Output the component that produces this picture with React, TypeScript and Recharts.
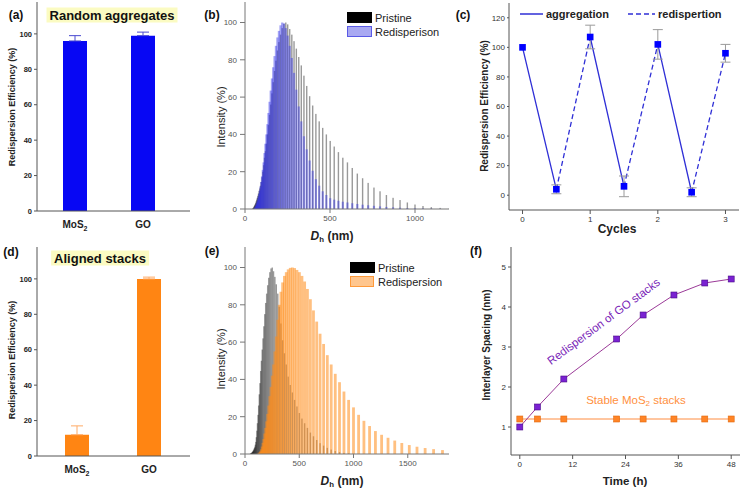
import React from 'react';
import { BarChart, Bar, ComposedChart, Line, Scatter, XAxis, YAxis, ZAxis, ErrorBar } from 'recharts';

const FONT = "'Liberation Sans', Arial, Helvetica, sans-serif";

// ---------- (a) & (d) ----------
const materials = ['MoS2', 'GO'];
const randomAggEff = [96, 99];
const randomAggErr = [3, 2];
const alignedEff = [12, 100];
const alignedErr = [5, 1];

// ---------- (b) & (e) DLS size bins (nm) ----------
const dlsBins = [
  39.8, 41.7, 43.7, 45.7, 47.9, 50.1, 52.5, 55.0, 57.5, 60.3,
  63.1, 66.1, 69.2, 72.4, 75.9, 79.4, 83.2, 87.1, 91.2, 95.5,
  100, 104.7, 109.6, 114.8, 120.2, 125.9, 131.8, 138.0, 144.5, 151.4,
  158.5, 166.0, 173.8, 182.0, 190.5, 199.5, 208.9, 218.8, 229.1, 239.9,
  251.2, 263.0, 275.4, 288.4, 302.0, 316.2, 331.1, 346.7, 363.1, 380.2,
  398.1, 416.9, 436.5, 457.1, 478.6, 501.2, 524.8, 549.5, 575.4, 602.6,
  631.0, 660.7, 691.8, 724.4, 758.6, 794.3, 831.8, 871.0, 912.0, 955.0,
  1000, 1047, 1096, 1148, 1202, 1259, 1318, 1380, 1445, 1514,
  1585, 1660, 1738, 1820,
];
const pristineB = [
  0, 0, 0, 0.2, 0.4, 0.7, 1.1, 1.6, 2.1, 2.6,
  3.3, 4.1, 5.0, 6.0, 7.1, 8.3, 9.6, 11, 12.5, 14.5,
  17, 20, 23.5, 27.5, 31, 35, 40, 45, 50.5, 56,
  62, 68, 74, 79.5, 85, 89.5, 93.5, 97, 99.3, 100,
  99, 96.5, 93.5, 90, 86, 81.5, 77, 71.5, 66, 60.5,
  55.5, 51, 47, 43.5, 40, 36.5, 33.5, 30.5, 27.5, 25,
  22, 19, 16.5, 14, 11.5, 9.5, 7.5, 6, 4.8, 3.5,
  2.4, 1.6, 1.0, 0.6, 0.3, 0.1, 0, 0, 0, 0,
  0, 0, 0, 0,
];
const redispB = [
  0, 0, 0, 0, 0, 0, 0, 0.3, 0.6, 1.0,
  1.5, 2.2, 3.0, 4.0, 5.2, 6.6, 8.2, 10, 12, 14.5,
  17.5, 21, 25, 30, 35, 40, 45.5, 51.5, 57.5, 63.5,
  70, 76, 82, 87.5, 92, 95.5, 98.5, 100, 99.5, 97,
  93, 87.5, 81, 73, 64, 55, 47, 39, 32, 26,
  20.5, 16, 12.5, 9.5, 7.5, 5.8, 5.0, 4.4, 3.9, 3.5,
  3.1, 2.7, 2.3, 2.0, 1.7, 1.4, 1.1, 0.9, 0.7, 0.5,
  0.4, 0.3, 0.2, 0.1, 0, 0, 0, 0, 0, 0,
  0, 0, 0, 0,
];
const pristineE = [
  0, 0, 0, 0, 0, 0.1, 0.2, 0.3, 0.4, 0.5,
  0.7, 0.9, 1.1, 1.4, 1.7, 2.1, 2.6, 3.2, 3.9, 5.0,
  6.5, 9, 12.5, 16.5, 21, 26, 32, 38, 44.5, 50,
  56, 62, 68.5, 75, 81, 86, 90.5, 94.5, 97.5, 99.5,
  100, 98, 95, 91, 86, 79, 70, 61, 54, 48,
  41.5, 37, 33, 29, 25.5, 22, 19, 16.5, 14, 11.5,
  9.5, 7.5, 5.8, 4.5, 3.3, 2.4, 1.6, 1.0, 0.6, 0.3,
  0.1, 0, 0, 0, 0, 0, 0, 0, 0, 0,
  0, 0, 0, 0,
];
const redispE = [
  0, 0, 0, 0, 0, 0, 0, 0, 0, 0,
  0, 0, 0, 0, 0, 0, 0, 0, 0, 0,
  0, 0, 0, 0, 0, 0.3, 0.6, 1.0, 1.5, 2.5,
  4, 6, 8, 11, 14, 17.5, 21.5, 26, 31, 36,
  42, 48, 55, 63, 72, 80, 87, 92, 95.5, 97.5,
  99, 99.8, 100, 99.7, 98.7, 97.5, 95.5, 92.5, 88.5, 83,
  77, 71, 64.5, 59, 53, 48, 43, 38.5, 33.5, 29,
  25, 21, 17.8, 15, 12.3, 10.3, 8.7, 7.2, 5.9, 4.8,
  3.9, 3.2, 2.6, 2.1,
];

// ---------- (c) ----------
const cycles = [0, 0.5, 1, 1.5, 2, 2.5, 3];
const cycleEff = [100, 4, 107, 6, 102, 2, 96];
const cycleErr = [0, 3, 8, 7, 10, 3, 6];
const aggregationSegments = [[0, 1], [2, 3], [4, 5]];
const redispersionSegments = [[1, 2], [3, 4], [5, 6]];

// ---------- (f) ----------
const timeH = [0, 4, 10, 22, 28, 35, 42, 48];
const goSpacing = [1.0, 1.5, 2.2, 3.2, 3.8, 4.3, 4.6, 4.7];
const mos2Spacing = [1.2, 1.2, 1.2, 1.2, 1.2, 1.2, 1.2, 1.2];

// ---------- helpers ----------
const frame = (color: string) => [
  <XAxis key="ft" xAxisId="frameTop" orientation="top" type="number" domain={[0, 1]} height={0} tick={false} tickLine={false} stroke={color} />,
  <YAxis key="fr" yAxisId="frameRight" orientation="right" type="number" domain={[0, 1]} width={0} tick={false} tickLine={false} stroke={color} />,
];

const thinBar = (w: number, fill: string, opacity: number) => (props: any) => {
  const { x, y, width, height } = props;
  if (!(height > 0)) return <g />;
  return <rect x={x + width / 2 - w / 2} y={y} width={w} height={height} fill={fill} fillOpacity={opacity} />;
};

const squareDot = (size: number, fill: string, stroke: string) => (props: any) => {
  const { cx, cy, index } = props;
  if (cx == null || cy == null) return <g key={`d${index}`} />;
  return <rect key={`d${index}`} x={cx - size / 2} y={cy - size / 2} width={size} height={size} fill={fill} stroke={stroke} strokeWidth={0.6} />;
};

const MaterialTick = (props: any) => {
  const { x, y, payload } = props;
  const v = String(payload.value);
  return (
    <text x={x} y={y + 9} textAnchor="middle" fontFamily={FONT} fontWeight="bold" fontSize={10} fill="#222">
      {v === 'MoS2' ? (<>MoS<tspan fontSize={7} dy={3}>2</tspan></>) : v}
    </text>
  );
};

const Txt = ({ x, y, rot = 0, size = 11, weight = 'normal', color = '#222', children, style = {} }: any) => (
  <div style={{
    position: 'absolute', left: x, top: y,
    transform: `translate(-50%,-50%) rotate(${rot}deg)`,
    fontFamily: FONT, fontSize: size, fontWeight: weight, color,
    whiteSpace: 'nowrap', lineHeight: 1, ...style,
  }}>{children}</div>
);

const Box = ({ x, y, w, h, children }: any) => (
  <div style={{ position: 'absolute', left: x, top: y, width: w, height: h }}>{children}</div>
);

const Dh = () => (<span><i>D</i><sub style={{ fontSize: '0.65em', verticalAlign: '-0.25em' }}>h</sub> (nm)</span>);

// ---------- panels ----------
function EfficiencyBars({ eff, err, color, errColor, padding }: any) {
  const data = materials.map((m, i) => ({ name: m, v: eff[i], e: [0, err[i]] }));
  return (
    <BarChart width={200} height={245} data={data} margin={{ top: 2, right: 10, left: 10, bottom: 10 }}>
      <XAxis dataKey="name" tick={<MaterialTick />} tickLine={false} height={24} padding={padding} stroke="#555" interval={0} />
      <YAxis domain={[0, 118]} ticks={[0, 20, 40, 60, 80, 100]} width={27} tickSize={3} tickMargin={2}
        tick={{ fontSize: 7.5, fill: '#222', fontWeight: 'bold', fontFamily: FONT }} stroke="#555" allowDataOverflow />
      {frame('#555')}
      <Bar dataKey="v" fill={color} barSize={24} isAnimationActive={false}>
        <ErrorBar dataKey="e" width={6} stroke={errColor} strokeWidth={1} />
      </Bar>
    </BarChart>
  );
}

function DlsPanel({ pristine, redisp, maxX, ticks, color, opacity, width }: any) {
  const rows = dlsBins.map((d, i) => ({ d, p: pristine[i], r: redisp[i] }));
  return (
    <ComposedChart width={260} height={245} data={rows} margin={{ top: 2, right: 11, left: 15, bottom: 16 }}>
      <XAxis xAxisId="p" type="number" dataKey="d" domain={[0, maxX]} ticks={ticks} allowDataOverflow height={20}
        tickSize={4} tick={{ fontSize: 8, fill: '#555', fontFamily: FONT }} stroke="#777" />
      <XAxis xAxisId="r" type="number" dataKey="d" domain={[0, maxX]} allowDataOverflow hide />
      <YAxis domain={[0, 111]} ticks={[0, 20, 40, 60, 80, 100]} width={30} tickSize={5} tickMargin={3}
        tick={{ fontSize: 8, fill: '#555', fontFamily: FONT }} stroke="#777" allowDataOverflow />
      {frame('#777')}
      <Bar xAxisId="p" dataKey="p" shape={thinBar(1.4, '#000', 0.4)} isAnimationActive={false} />
      <Bar xAxisId="r" dataKey="r" shape={thinBar(width, color, opacity)} isAnimationActive={false} />
    </ComposedChart>
  );
}

function CyclePanel() {
  const pts = cycles.map((x, i) => ({ x, y: cycleEff[i], e: cycleErr[i] }));
  const seg = (list: number[][]) => list.flatMap(([a, b]) => [
    { x: cycles[a], y: cycleEff[a] }, { x: cycles[b], y: cycleEff[b] }, { x: cycles[b], y: null },
  ]);
  return (
    <ComposedChart width={274} height={245} margin={{ top: 3, right: 5, left: 17, bottom: 15 }}>
      <XAxis type="number" dataKey="x" domain={[-0.2, 3.2]} ticks={[0, 1, 2, 3]} height={20} tickSize={4}
        tick={{ fontSize: 8, fill: '#333', fontFamily: FONT }} stroke="#555" allowDataOverflow />
      <YAxis type="number" dataKey="y" domain={[-10, 130]} ticks={[0, 20, 40, 60, 80, 100, 120]} width={22} tickSize={2}
        tick={{ fontSize: 8, fill: '#333', fontFamily: FONT }} stroke="#555" allowDataOverflow />
      <ZAxis range={[44, 44]} />
      {frame('#555')}
      <Line data={seg(aggregationSegments)} dataKey="y" stroke="#2f2fd6" strokeWidth={1.3} dot={false} connectNulls={false} isAnimationActive={false} />
      <Line data={seg(redispersionSegments)} dataKey="y" stroke="#2f2fd6" strokeWidth={1.3} strokeDasharray="5 3" dot={false} connectNulls={false} isAnimationActive={false} />
      <Scatter data={pts} dataKey="y" shape="square" fill="#0000ff" isAnimationActive={false}>
        <ErrorBar dataKey="e" direction="y" width={5} stroke="#9a9a9a" strokeWidth={1} />
      </Scatter>
    </ComposedChart>
  );
}

function SpacingPanel() {
  const rows = timeH.map((t, i) => ({ t, go: goSpacing[i], mos: mos2Spacing[i] }));
  return (
    <ComposedChart width={274} height={245} data={rows} margin={{ top: 2, right: 4, left: 19, bottom: 15 }}>
      <XAxis type="number" dataKey="t" domain={[-2, 50]} ticks={[0, 12, 24, 36, 48]} height={20} tickSize={4}
        tick={{ fontSize: 8, fill: '#333', fontFamily: FONT }} stroke="#555" allowDataOverflow />
      <YAxis type="number" domain={[0.3, 5.5]} ticks={[1, 2, 3, 4, 5]} width={22} tickSize={3}
        tick={{ fontSize: 8, fill: '#333', fontFamily: FONT }} stroke="#555" allowDataOverflow />
      {frame('#555')}
      <Line dataKey="mos" stroke="#ff8c40" strokeWidth={1} dot={squareDot(6, '#ff8426', '#e06a10')} isAnimationActive={false} />
      <Line dataKey="go" stroke="#9b3a98" strokeWidth={1} dot={squareDot(6, '#7a22d2', '#4a0a88')} isAnimationActive={false} />
    </ComposedChart>
  );
}

export default function App() {
  return (
    <div style={{ position: 'absolute', left: 0, top: 0, width: 744, height: 490, background: '#fff', overflow: 'hidden', fontFamily: FONT }}>
      <Box x={0} y={0} w={200} h={245}>
        <EfficiencyBars eff={randomAggEff} err={randomAggErr} color="#0707f4" errColor="#4a4ad0" padding={{ left: 4, right: 13 }} />
      </Box>
      <Box x={200} y={0} w={260} h={245}>
        <DlsPanel pristine={pristineB} redisp={redispB} maxX={1200} ticks={[0, 500, 1000]} color="#3232e6" opacity={0.45} width={2.2} />
      </Box>
      <Box x={470} y={0} w={274} h={245}>
        <CyclePanel />
      </Box>
      <Box x={0} y={245} w={200} h={245}>
        <EfficiencyBars eff={alignedEff} err={alignedErr} color="#ff8513" errColor="#ffab66" padding={{ left: 4, right: 5 }} />
      </Box>
      <Box x={200} y={245} w={260} h={245}>
        <DlsPanel pristine={pristineE} redisp={redispE} maxX={1880} ticks={[0, 500, 1000, 1500]} color="#ff8c1a" opacity={0.55} width={2.8} />
      </Box>
      <Box x={470} y={245} w={274} h={245}>
        <SpacingPanel />
      </Box>

      {/* panel letters */}
      <Txt x={16} y={15} size={12} weight="bold" color="#111">(a)</Txt>
      <Txt x={212} y={15} size={12} weight="bold" color="#111">(b)</Txt>
      <Txt x={463} y={15} size={12} weight="bold" color="#111">(c)</Txt>
      <Txt x={11} y={252} size={12} weight="bold" color="#111">(d)</Txt>
      <Txt x={212} y={251} size={12} weight="bold" color="#111">(e)</Txt>
      <Txt x={476} y={251} size={12} weight="bold" color="#111">(f)</Txt>

      {/* titles */}
      <Txt x={112} y={15} size={13} weight="bold" color="#111" style={{ background: '#fbfbc2', padding: '1px 3px' }}>Random aggregates</Txt>
      <Txt x={100} y={258} size={13} weight="bold" color="#111" style={{ background: '#fbfbc2', padding: '1px 3px' }}>Aligned stacks</Txt>

      {/* axis titles */}
      <Txt x={12} y={107} rot={-90} size={9} weight="bold">Redispersion Efficiency (%)</Txt>
      <Txt x={12} y={360} rot={-90} size={9} weight="bold">Redispersion Efficiency (%)</Txt>
      <Txt x={221} y={117} rot={-90} size={11}>Intensity (%)</Txt>
      <Txt x={221} y={359} rot={-90} size={11}>Intensity (%)</Txt>
      <Txt x={332} y={237} size={12} weight="bold"><Dh /></Txt>
      <Txt x={342} y={482} size={12} weight="bold"><Dh /></Txt>
      <Txt x={485} y={106} rot={-90} size={10} weight="bold">Redispersion Efficiency (%)</Txt>
      <Txt x={617} y={229} size={12} weight="bold">Cycles</Txt>
      <Txt x={487} y={345} rot={-90} size={10} weight="bold">Interlayer Spacing (nm)</Txt>
      <Txt x={625} y={482} size={11.5} weight="bold">Time (h)</Txt>

      {/* legend (b) */}
      <div style={{ position: 'absolute', left: 347, top: 12, width: 25, height: 11, background: '#000' }} />
      <Txt x={375} y={18} size={11} style={{ transform: 'translate(0,-50%)' }}>Pristine</Txt>
      <div style={{ position: 'absolute', left: 347, top: 26, width: 23, height: 9, background: '#a9a9f2', border: '1px solid #5a5ae6' }} />
      <Txt x={375} y={32} size={11} style={{ transform: 'translate(0,-50%)' }}>Redisperison</Txt>

      {/* legend (e) */}
      <div style={{ position: 'absolute', left: 350, top: 262, width: 25, height: 11, background: '#000' }} />
      <Txt x={378} y={268} size={11} style={{ transform: 'translate(0,-50%)' }}>Pristine</Txt>
      <div style={{ position: 'absolute', left: 350, top: 276, width: 22, height: 9, background: '#ffc68e', border: '1.5px solid #ff9a3a' }} />
      <Txt x={378} y={282} size={11} style={{ transform: 'translate(0,-50%)' }}>Redispersion</Txt>

      {/* legend (c) */}
      <svg style={{ position: 'absolute', left: 0, top: 0 }} width={744} height={30}>
        <line x1={520} y1={14} x2={543} y2={14} stroke="#2f2fd6" strokeWidth={1.5} />
        <line x1={628} y1={14} x2={655} y2={14} stroke="#2f2fd6" strokeWidth={1.5} strokeDasharray="5 3" />
      </svg>
      <Txt x={546} y={14} size={11} weight="bold" style={{ transform: 'translate(0,-50%)' }}>aggregation</Txt>
      <Txt x={658} y={14} size={11} weight="bold" style={{ transform: 'translate(0,-50%)' }}>redispertion</Txt>

      {/* annotations (f) */}
      <Txt x={604} y={322} rot={-36.5} size={11.5} color="#7a1fb8">Redispersion of GO stacks</Txt>
      <Txt x={636} y={402} size={11.5} color="#ff9040">Stable MoS<sub style={{ fontSize: '0.7em', verticalAlign: '-0.25em' }}>2</sub> stacks</Txt>
    </div>
  );
}
